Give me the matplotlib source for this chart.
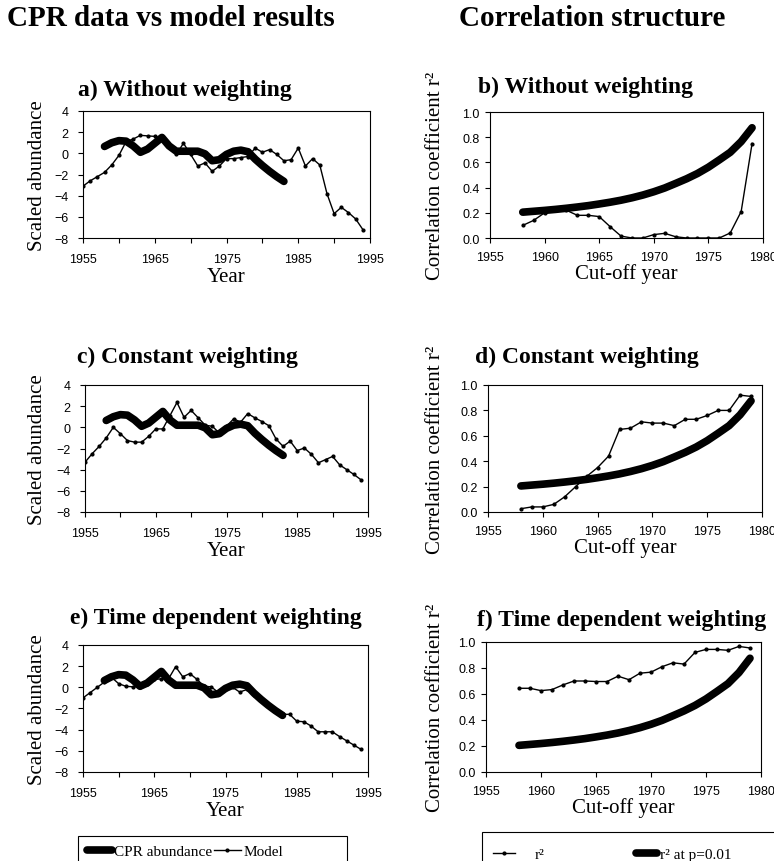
import numpy as np
import matplotlib.pyplot as plt
import matplotlib as mpl
from matplotlib.patches import Rectangle

mpl.rcParams['font.family'] = 'Liberation Serif'
mpl.rcParams['xtick.direction'] = 'out'
mpl.rcParams['ytick.direction'] = 'out'
mpl.rcParams['axes.linewidth'] = 0.8

W, H = 774, 862

#######################################################################
#### Data
#######################################################################
model_years = np.arange(1955, 1995)
cpr_years = np.arange(1958, 1984)
cut_years = np.arange(1958, 1980)

cpr = [0.65, 1.0, 1.2, 1.15, 0.7, 0.1, 0.4, 0.95, 1.5, 0.7, 0.2, 0.2, 0.2,
       0.2, -0.05, -0.7, -0.6, -0.1, 0.2, 0.3, 0.15, -0.55, -1.15, -1.7,
       -2.2, -2.65]

model_a = [-3.1, -2.6, -2.2, -1.8, -1.1, -0.2, 1.1, 1.35, 1.7, 1.65,
           1.6, 1.45, 0.6, -0.1, 0.95, -0.1, -1.2, -0.9, -1.7, -1.2,
           -0.5, -0.5, -0.4, -0.3, 0.5, 0.1, 0.35, -0.1, -0.7, -0.6,
           0.5, -1.2, -0.5, -1.1, -3.8, -5.7, -5.1, -5.6, -6.2, -7.2]
model_c = [-3.3, -2.5, -1.8, -1.0, 0.0, -0.6, -1.25, -1.4, -1.4, -0.85,
           -0.15, -0.15, 1.1, 2.35, 0.95, 1.6, 0.9, 0.2, 0.1, -0.55,
           0.1, 0.8, 0.5, 1.3, 0.9, 0.55, 0.15, -1.1, -1.8, -1.3,
           -2.2, -1.95, -2.55, -3.35, -3.05, -2.75, -3.55, -4.0, -4.45, -4.95]
model_e = [-1.0, -0.5, 0.0, 0.5, 0.95, 0.35, 0.1, 0.05, 0.05, 0.3,
           0.75, 0.8, 0.8, 1.95, 1.0, 1.3, 0.75, 0.1, 0.05, -0.5,
           -0.2, 0.0, -0.45, -0.2, -0.75, -1.15, -1.65, -2.15, -2.55, -2.55,
           -3.2, -3.25, -3.65, -4.2, -4.2, -4.2, -4.65, -5.05, -5.45, -5.85]

r2_crit = [0.205, 0.212, 0.219, 0.227, 0.236, 0.246, 0.257, 0.270, 0.284,
           0.300, 0.319, 0.341, 0.367, 0.397, 0.433, 0.470, 0.512, 0.562,
           0.620, 0.680, 0.765, 0.875]
r2_b = [0.10, 0.14, 0.20, 0.22, 0.22, 0.18, 0.18, 0.17, 0.09, 0.015, 0.0,
        0.0, 0.027, 0.037, 0.01, 0.0, 0.0, 0.0, 0.0, 0.04, 0.21, 0.75]
r2_d = [0.026, 0.04, 0.04, 0.06, 0.12, 0.2, 0.28, 0.35, 0.44, 0.65, 0.66,
        0.71, 0.70, 0.70, 0.68, 0.73, 0.73, 0.76, 0.80, 0.80, 0.92, 0.91]
r2_f = [0.644, 0.644, 0.626, 0.634, 0.67, 0.70, 0.70, 0.696, 0.696, 0.737,
        0.71, 0.76, 0.768, 0.81, 0.84, 0.83, 0.92, 0.943, 0.943, 0.936,
        0.966, 0.954]

left_titles = ['a) Without weighting', 'c) Constant weighting', 'e) Time dependent weighting']
right_titles = ['b) Without weighting', 'd) Constant weighting', 'f) Time dependent weighting']
models = [model_a, model_c, model_e]
r2s = [r2_b, r2_d, r2_f]

# axes boxes in pixels: (left, right, top, bottom)
left_boxes = [(83, 370, 112, 239), (85, 368, 386, 513), (83, 368, 646, 773)]
right_boxes = [(490, 763, 113, 239), (488, 762, 386, 513), (486, 761, 643, 773)]
left_title_pos = [(78, 90), (77, 357), (70, 618)]
right_title_pos = [(478, 87), (475, 357), (477, 620)]


def px(x, y):
    return x / W, 1 - y / H


def make_ax(box):
    l, r, t, b = box
    return fig.add_axes([l / W, 1 - b / H, (r - l) / W, (b - t) / H])


def style_ticks(ax, xpad, ypad):
    ax.tick_params(length=3.5, width=0.8, labelsize=9, top=False, right=False)
    ax.tick_params(axis='x', pad=xpad)
    ax.tick_params(axis='y', pad=ypad)
    for lab in ax.get_xticklabels() + ax.get_yticklabels():
        lab.set_fontfamily('Liberation Sans')


def one_entry(handle, label, x, y, hl, tp):
    # single legend entry, handle starting at pixel x, centred on pixel y
    leg = fig.legend([handle], [label], loc='center left', bbox_to_anchor=px(x, y),
                     frameon=False, fontsize=11, borderpad=0, borderaxespad=0,
                     handlelength=hl, handletextpad=tp, numpoints=1)
    return leg


def box(l, r, t):
    fig.patches.append(Rectangle(px(l, H + 20), (r - l) / W, (H + 20 - t) / H,
                                 transform=fig.transFigure, fill=False,
                                 edgecolor='k', lw=0.8))


thin = dict(color='k', lw=1.0, marker='o', ms=2)
thick = dict(color='k', lw=5.5, solid_capstyle='round')

fig = plt.figure(figsize=(W / 100, H / 100), dpi=100)

fig.text(*px(171, 19), 'CPR data vs model results', ha='center', va='center',
         fontsize=21, fontweight='bold')
fig.text(*px(592, 19), 'Correlation structure', ha='center', va='center',
         fontsize=21, fontweight='bold')

#######################################################################
#### Left column: CPR abundance vs model
#######################################################################
for i in range(3):
    ax = make_ax(left_boxes[i])
    lm, = ax.plot(model_years, models[i], **thin)
    lc, = ax.plot(cpr_years, cpr, **thick)
    ax.set_xlim(1955, 1995)
    ax.set_ylim(-8, 4)
    ax.set_xticks(np.arange(1955, 1996, 5))
    ax.set_xticklabels([str(y) if (y - 1955) % 10 == 0 else '' for y in range(1955, 1996, 5)])
    ax.set_yticks(np.arange(-8, 5, 2))
    style_ticks(ax, 7, 7)
    ax.set_ylabel('Scaled abundance', fontsize=15)
    ax.yaxis.set_label_coords((47 - left_boxes[i][0]) / (left_boxes[i][1] - left_boxes[i][0]), 0.5)
    ax.set_xlabel('Year', fontsize=15, labelpad=2)
    fig.text(*px(*left_title_pos[i]), left_titles[i], ha='left', va='center',
             fontsize=17, fontweight='bold')

box(78, 347, 837)
one_entry(lc, 'CPR abundance', 87, 852, 1.65, 0.1)
one_entry(lm, 'Model', 214, 852, 1.75, 0.2)

#######################################################################
#### Right column: correlation structure
#######################################################################
for i in range(3):
    ax = make_ax(right_boxes[i])
    lk, = ax.plot(cut_years, r2_crit, **thick)
    lr, = ax.plot(cut_years, r2s[i], **thin)
    ax.set_xlim(1955, 1980)
    ax.set_ylim(0, 1)
    ax.set_xticks(np.arange(1955, 1981, 5))
    ax.set_yticks(np.arange(0, 1.01, 0.2))
    ax.yaxis.set_major_formatter(mpl.ticker.FormatStrFormatter('%.1f'))
    style_ticks(ax, 6, 4)
    ax.set_ylabel('Correlation coefficient r²', fontsize=15)
    ax.yaxis.set_label_coords((445 - right_boxes[i][0]) / (right_boxes[i][1] - right_boxes[i][0]), 0.5)
    ax.set_xlabel('Cut-off year', fontsize=15, labelpad=0)
    fig.text(*px(*right_title_pos[i]), right_titles[i], ha='left', va='center',
             fontsize=17, fontweight='bold')

box(482, 776, 833)
one_entry(lr, 'r²', 493, 855, 1.45, 1.3)
one_entry(lk, 'r² at p=0.01', 636, 855, 1.4, 0.15)

fig.savefig('out.png', dpi=100)
